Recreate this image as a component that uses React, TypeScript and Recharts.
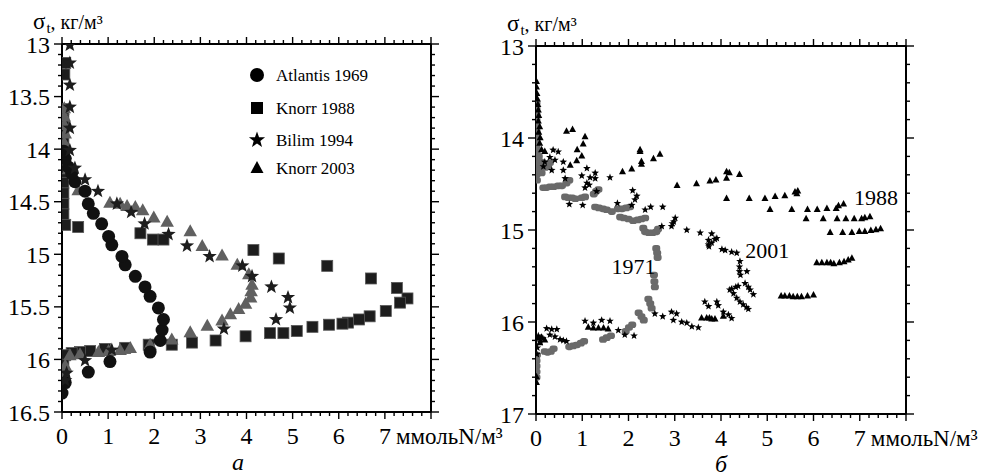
import React from 'react';
import { ScatterChart, Scatter, XAxis, YAxis, Legend, ReferenceDot } from 'recharts';

const FONT = '"Liberation Serif", "Times New Roman", serif';

// ---------- Panel а : [nitrate (mmol N/m3), sigma-t]
const atlantis1969: number[][] = [
  [0.0, 16.32], [0.07, 16.22], [0.57, 16.12], [1.04, 16.02], [1.91, 15.93], [2.13, 15.82], [2.17, 15.72],
  [2.2, 15.62], [2.09, 15.51], [1.91, 15.4], [1.8, 15.31], [1.59, 15.21], [1.37, 15.1], [1.3, 15.02],
  [1.08, 14.91], [1.01, 14.83], [0.86, 14.71], [0.68, 14.61], [0.57, 14.52], [0.5, 14.4], [0.28, 14.31],
  [0.21, 14.23], [0.14, 14.17], [0.07, 14.09], [0.04, 14.02],
];
const knorr1988: number[][] = [
  [0.07, 13.18], [0.05, 13.29], [0.03, 13.62], [0.03, 13.72], [0.03, 13.82], [0.03, 13.92], [0.03, 14.02],
  [0.03, 14.12], [0.03, 14.22], [0.03, 14.32], [0.03, 14.42], [0.03, 14.52], [0.03, 14.62], [0.07, 14.72],
  [0.35, 14.74], [1.7, 14.8], [1.97, 14.86], [2.2, 14.86], [4.15, 14.96], [4.7, 15.04], [5.75, 15.11],
  [6.7, 15.23], [7.26, 15.32], [7.49, 15.42], [7.33, 15.46], [7.02, 15.54], [6.67, 15.59], [6.44, 15.62],
  [6.2, 15.65], [6.08, 15.66], [5.79, 15.67], [5.43, 15.69], [5.09, 15.73], [4.8, 15.75], [4.51, 15.75],
  [3.98, 15.78], [3.33, 15.82], [2.82, 15.84], [2.38, 15.86], [1.88, 15.86], [1.37, 15.89], [0.93, 15.9],
  [0.61, 15.92], [0.39, 15.93], [0.21, 15.94], [0.07, 15.96], [0.03, 16.05], [0.03, 16.13], [0.03, 16.22],
];
const bilim1994: number[][] = [
  [0.17, 13.01], [0.17, 13.18], [0.17, 13.39], [0.17, 13.6], [0.17, 13.8], [0.17, 14.01], [0.28, 14.18],
  [0.5, 14.29], [0.78, 14.4], [1.19, 14.52], [1.5, 14.6], [1.79, 14.71], [2.31, 14.81], [2.71, 14.92],
  [3.2, 15.02], [3.91, 15.11], [4.12, 15.21], [4.54, 15.31], [4.9, 15.41], [4.94, 15.51], [4.64, 15.62],
  [3.51, 15.71], [1.08, 15.91], [0.5, 16.01], [0.1, 16.13], [0.07, 16.2],
];
const knorr2003: number[][] = [
  [0.05, 13.62], [0.05, 13.7], [0.05, 13.78], [0.07, 13.86], [0.05, 13.95], [0.07, 14.05], [0.1, 14.12],
  [0.14, 14.2], [0.35, 14.4], [1.04, 14.52], [1.26, 14.53], [1.41, 14.55], [1.59, 14.56], [1.75, 14.59],
  [1.99, 14.66], [2.28, 14.7], [2.78, 14.79], [3.04, 14.93], [3.47, 15.02], [3.8, 15.11], [4.05, 15.2],
  [4.12, 15.3], [4.1, 15.36], [4.09, 15.42], [3.98, 15.48], [3.83, 15.53], [3.65, 15.58], [3.47, 15.64],
  [3.15, 15.69], [2.78, 15.75], [2.38, 15.82], [1.91, 15.87], [1.48, 15.9], [1.26, 15.92], [1.01, 15.93],
  [0.79, 15.94], [0.39, 15.96], [0.17, 15.97], [0.07, 16.07], [0.03, 16.13], [0.03, 16.2],
];

// ---------- Panel б
const gray1971: number[][] = [
  [0.01, 13.62], [0.01, 13.68], [0.01, 13.74], [0.01, 13.8], [0.01, 13.86], [0.01, 13.92], [0.01, 13.98],
  [0.01, 14.04], [0.01, 14.1], [0.01, 14.16], [0.01, 14.22], [0.01, 14.28], [0.01, 14.34], [0.01, 14.4],
  [0.02, 14.46], [0.06, 14.2], [0.1, 14.26], [0.14, 14.3], [0.2, 14.32], [0.26, 14.3], [0.3, 14.27],
  [0.06, 14.36], [0.12, 14.38],
  [0.16, 14.54], [0.22, 14.54], [0.3, 14.53], [0.38, 14.53], [0.48, 14.52], [0.56, 14.52], [0.66, 14.49], [0.72, 14.46],
  [0.63, 14.64], [0.7, 14.65], [0.78, 14.65], [0.85, 14.66], [0.99, 14.65], [1.06, 14.64], [1.25, 14.61], [1.3, 14.58], [1.35, 14.56],
  [1.28, 14.75], [1.36, 14.76], [1.45, 14.77], [1.53, 14.78], [1.64, 14.8], [1.77, 14.77], [1.86, 14.77], [1.95, 14.76], [2.03, 14.75],
  [1.82, 14.86], [1.9, 14.87], [2.0, 14.88], [2.1, 14.9], [2.2, 14.89], [2.28, 14.88], [2.36, 14.87],
  [2.32, 14.98], [2.36, 15.02], [2.44, 15.03], [2.52, 15.03], [2.6, 15.02], [2.64, 14.99],
  [2.6, 15.2], [2.62, 15.25], [2.63, 15.3],
  [2.55, 15.49], [2.56, 15.56], [2.57, 15.62],
  [2.43, 15.75], [2.47, 15.8], [2.5, 15.85],
  [2.22, 15.9], [2.28, 15.94], [2.33, 15.98],
  [1.94, 16.1], [2.01, 16.06], [2.08, 16.03],
  [1.45, 16.19], [1.53, 16.17], [1.62, 16.15],
  [0.72, 16.27], [0.8, 16.26], [0.88, 16.25], [0.97, 16.23], [1.04, 16.21],
  [0.19, 16.32], [0.25, 16.33], [0.32, 16.32], [0.38, 16.29],
  [0.02, 16.36], [0.01, 16.42], [0.01, 16.48], [0.01, 16.54], [0.01, 16.6],
];
const stars2001: number[][] = [
  [0.37, 14.13], [0.48, 14.15], [0.3, 14.21], [0.41, 14.24], [0.19, 14.26], [0.16, 14.31], [0.34, 14.35],
  [0.59, 14.26], [0.59, 14.35], [0.63, 14.44], [1.1, 14.33], [1.28, 14.38], [0.99, 14.41], [1.17, 14.43],
  [1.28, 14.44], [1.1, 14.49], [1.06, 14.54], [1.15, 14.51], [1.31, 14.58], [1.6, 14.43], [0.72, 14.72],
  [1.01, 14.73], [1.76, 14.71], [2.09, 14.57], [2.18, 14.63], [2.14, 14.67], [2.07, 14.73], [2.36, 14.78],
  [2.48, 14.75], [2.74, 14.75], [2.72, 14.96], [2.93, 14.96], [3.01, 14.87], [2.98, 14.91], [2.95, 14.93],
  [3.26, 15.0], [3.55, 15.03], [3.8, 15.04], [3.73, 15.11], [3.8, 15.14], [3.91, 15.09], [3.73, 15.16],
  [3.87, 15.1], [3.74, 15.18], [4.02, 15.21], [4.09, 15.22], [4.23, 15.24], [4.34, 15.25], [4.41, 15.34],
  [4.4, 15.4], [4.4, 15.45], [4.42, 15.49], [4.56, 15.45], [4.52, 15.58], [4.59, 15.62], [4.63, 15.65],
  [4.7, 15.7], [4.23, 15.64], [4.32, 15.62], [4.37, 15.61], [4.27, 15.69], [4.34, 15.74], [4.41, 15.78],
  [4.48, 15.81], [4.55, 15.84], [4.59, 15.86], [3.65, 15.78], [3.73, 15.83], [3.91, 15.78], [3.94, 15.82],
  [4.05, 15.89], [4.16, 15.92], [4.23, 15.96], [4.19, 15.65],
  [2.57, 15.91], [2.74, 15.94], [2.93, 15.89], [3.04, 15.91], [2.97, 15.98], [3.15, 16.0], [3.26, 16.01],
  [3.37, 16.05], [3.51, 16.06],
  [1.06, 15.99], [1.24, 16.01], [1.42, 15.98], [1.6, 15.99], [1.78, 16.09], [1.92, 16.14], [2.12, 16.15],
  [0.23, 16.07], [0.34, 16.08], [0.45, 16.08], [0.3, 16.14], [0.41, 16.16], [0.52, 16.19], [0.59, 16.2],
  [0.66, 16.21], [0.05, 16.15], [0.1, 16.22], [0.03, 16.28], [0.15, 16.18], [0.02, 16.35],
];
const tri1988: number[][] = [
  [0.01, 13.39], [0.01, 13.45], [0.02, 13.52], [0.03, 13.58], [0.04, 13.64], [0.05, 13.7], [0.06, 13.76],
  [0.05, 13.82], [0.08, 13.88], [0.06, 13.94], [0.09, 14.0], [0.08, 14.06], [0.12, 14.13], [0.19, 14.15],
  [0.66, 13.93], [0.79, 13.91], [1.06, 13.99], [1.02, 14.07], [0.89, 14.13], [0.99, 14.2], [0.88, 14.25], [0.74, 14.3],
  [2.25, 14.13], [2.25, 14.15], [2.28, 14.26], [2.28, 14.29], [2.07, 14.34], [1.87, 14.37], [2.54, 14.23], [2.68, 14.18],
  [3.05, 14.52], [3.47, 14.5], [3.76, 14.47], [3.89, 14.46], [4.12, 14.37], [4.18, 14.38], [4.12, 14.44], [4.4, 14.4],
  [4.12, 14.66], [4.61, 14.66], [4.95, 14.66], [5.17, 14.64], [5.38, 14.63], [5.6, 14.59], [5.66, 14.58], [5.64, 14.61],
  [5.06, 14.78], [5.53, 14.78], [5.87, 14.78], [6.08, 14.78], [6.29, 14.77], [6.49, 14.77], [6.54, 14.74], [6.65, 14.72],
  [5.84, 14.88], [6.21, 14.88], [6.51, 14.88], [6.7, 14.88], [6.88, 14.88], [7.04, 14.88], [7.11, 14.87], [7.22, 14.86],
  [6.36, 15.03], [6.63, 15.03], [6.83, 15.03], [6.99, 15.02], [7.11, 15.02], [7.24, 15.01], [7.35, 15.0], [7.45, 14.99],
  [6.07, 15.36], [6.18, 15.36], [6.29, 15.36], [6.37, 15.36], [6.44, 15.37], [6.56, 15.36], [6.66, 15.35], [6.75, 15.33], [6.83, 15.31],
  [5.3, 15.72], [5.38, 15.72], [5.48, 15.72], [5.56, 15.73], [5.65, 15.73], [5.74, 15.73], [5.87, 15.72], [6.0, 15.71],
  [3.58, 15.96], [3.69, 15.96], [3.8, 15.97], [3.87, 15.97], [4.05, 15.94], [3.75, 15.96],
  [1.13, 16.06], [1.24, 16.07], [1.35, 16.07], [1.46, 16.07], [1.56, 16.08],
  [0.05, 16.18], [0.12, 16.17], [0.19, 16.2], [0.08, 16.23], [0.01, 16.6], [0.01, 16.66],
];

const legendNames = ['Atlantis 1969', 'Knorr 1988', 'Bilim 1994', 'Knorr 2003'];
const annotations = [
  { text: '1988', x: 7.35, y: 14.64 },
  { text: '2001', x: 5.0, y: 15.22 },
  { text: '1971', x: 2.11, y: 15.39 },
];
const panelCaptions = ['а', 'б'];
const xUnit = 'ммольN/м³';
const yTitleUnit = ', кг/м³';

const range = (a: number, b: number, s: number) => {
  const out: number[] = [];
  const n = Math.round((b - a) / s);
  for (let i = 0; i <= n; i++) out.push(Math.round((a + i * s) * 1000) / 1000);
  return out;
};
const xTicks = range(0, 8, 0.2);
const yTicksA = range(13, 16.5, 0.1);
const yTicksB = range(13, 17, 0.2);

const toPts = (arr: number[][]) => arr.map(([x, y]) => ({ x, y }));
const isMajor = (v: number, step: number) => Math.abs(v / step - Math.round(v / step)) < 1e-6;

// ---------- shapes
const starPath = (cx: number, cy: number, R: number, r: number) => {
  let d = '';
  for (let i = 0; i < 10; i++) {
    const a = -Math.PI / 2 + (i * Math.PI) / 5;
    const rad = i % 2 === 0 ? R : r;
    d += (i ? 'L' : 'M') + (cx + rad * Math.cos(a)).toFixed(2) + ',' + (cy + rad * Math.sin(a)).toFixed(2);
  }
  return d + 'Z';
};
const triPath = (cx: number, cy: number, w: number, h: number) =>
  `M${cx},${cy - (h * 2) / 3}L${cx + w / 2},${cy + h / 3}L${cx - w / 2},${cy + h / 3}Z`;

const CircleBig = (p: any) => <circle cx={p.cx} cy={p.cy} r={6.5} fill="#111" />;
const SquareBig = (p: any) => (
  <rect x={p.cx - 5.5} y={p.cy - 5.5} width={11} height={11} fill="#1d1d1d" stroke="#555" strokeWidth={0.8} />
);
const StarBig = (p: any) => <path d={starPath(p.cx, p.cy, 7.5, 3.1)} fill="#1d1d1d" />;
const TriBig = (p: any) => <path d={triPath(p.cx, p.cy, 13.5, 12)} fill="#606060" />;

const DashGray = (p: any) => <rect x={p.cx - 4} y={p.cy - 3.3} width={8} height={6.6} rx={2.8} fill="#6a6a6a" />;
const StarSmall = (p: any) => <path d={starPath(p.cx, p.cy, 4, 1.7)} fill="#000" />;
const TriSmall = (p: any) => <path d={triPath(p.cx, p.cy, 7, 6.5)} fill="#000" />;

// ---------- ticks
const bottomTick = (step: number) => (p: any) => {
  const v = p.payload.value;
  const m = isMajor(v, step);
  return (
    <g>
      <line x1={p.x} x2={p.x} y1={p.y} y2={p.y + (m ? 7 : 4)} stroke="#000" strokeWidth={1.4} />
      {m && v < 8 ? (
        <text x={p.x} y={p.y + 32} textAnchor="middle" fontFamily={FONT} fontSize={24} fill="#000">
          {v}
        </text>
      ) : null}
    </g>
  );
};
const topTick = (step: number) => (p: any) => {
  const v = p.payload.value;
  const m = isMajor(v, step);
  return <line x1={p.x} x2={p.x} y1={p.y} y2={p.y - (m ? 7 : 4)} stroke="#000" strokeWidth={1.4} />;
};
const leftTick = (step: number) => (p: any) => {
  const v = p.payload.value;
  const m = isMajor(v, step);
  return (
    <g>
      <line x1={p.x} x2={p.x - (m ? 8 : 4)} y1={p.y} y2={p.y} stroke="#000" strokeWidth={1.4} />
      {m ? (
        <text x={p.x - 12} y={p.y} dy="0.36em" textAnchor="end" fontFamily={FONT} fontSize={24} fill="#000">
          {v}
        </text>
      ) : null}
    </g>
  );
};
const rightTick = (step: number) => (p: any) => {
  const v = p.payload.value;
  const m = isMajor(v, step);
  return <line x1={p.x} x2={p.x + (m ? 8 : 4)} y1={p.y} y2={p.y} stroke="#000" strokeWidth={1.4} />;
};

// ---------- labels
const YTitle = (props: any) => {
  const vb = props.viewBox || {};
  const x0 = vb.x + (vb.width || 0);
  return (
    <text x={x0 - 29} y={vb.y - 15} fontFamily={FONT} fill="#000">
      <tspan fontSize={23}>σ</tspan>
      <tspan fontSize={15} dx={1} dy={4}>t</tspan>
      <tspan fontSize={20} dy={-4}>{yTitleUnit}</tspan>
    </text>
  );
};
const makeXLabel = (caption: string, capDx: number) => (props: any) => {
  const vb = props.viewBox || {};
  return (
    <g>
      <text x={vb.x + vb.width * 0.905} y={vb.y + 32} fontFamily={FONT} fontSize={23} fill="#000">
        {xUnit}
      </text>
      <text x={vb.x + capDx} y={vb.y + 58} textAnchor="middle" fontFamily={FONT} fontStyle="italic" fontSize={24} fill="#000">
        {caption}
      </text>
    </g>
  );
};

const legendMarkers = [
  (x: number, y: number) => <circle cx={x} cy={y} r={7} fill="#000" />,
  (x: number, y: number) => <rect x={x - 6} y={y - 6} width={12} height={12} fill="#000" />,
  (x: number, y: number) => <path d={starPath(x, y, 8.5, 3.5)} fill="#000" />,
  (x: number, y: number) => <path d={triPath(x, y + 1, 13, 12)} fill="#000" />,
];
const legendRowY = [13, 46, 78, 106];
const LegendBox = () => (
  <svg width={160} height={130} style={{ overflow: 'visible' }}>
    {legendNames.map((name, i) => (
      <g key={name}>
        {legendMarkers[i](14, legendRowY[i])}
        <text x={33} y={legendRowY[i] + 6} fontFamily={FONT} fontSize={17} fill="#000">
          {name}
        </text>
      </g>
    ))}
  </svg>
);

const axisLine = { stroke: '#000', strokeWidth: 2 };
const common = { tickSize: 0, tickMargin: 0, tickLine: false, axisLine, allowDataOverflow: true, interval: 0 as const };

export default function App() {
  return (
    <div style={{ position: 'absolute', left: 0, top: 0, width: 982, height: 476, background: '#fff' }}>
      <div style={{ position: 'absolute', left: 0, top: 0 }}>
        <ScatterChart width={982} height={476} margin={{ top: 43, left: 61, right: 550, bottom: 63 }}>
          <XAxis xAxisId="b" orientation="bottom" type="number" dataKey="x" domain={[0, 8]} ticks={xTicks} height={1}
            {...common} tick={bottomTick(1)} label={makeXLabel(panelCaptions[0], 176)} />
          <XAxis xAxisId="t" orientation="top" type="number" dataKey="x" domain={[0, 8]} ticks={xTicks} height={1}
            {...common} tick={topTick(1)} />
          <YAxis yAxisId="l" orientation="left" type="number" dataKey="y" domain={[13, 16.5]} reversed ticks={yTicksA}
            width={1} {...common} tick={leftTick(0.5)} label={<YTitle />} />
          <YAxis yAxisId="r" orientation="right" type="number" dataKey="y" domain={[13, 16.5]} reversed ticks={yTicksA}
            width={1} {...common} tick={rightTick(0.5)} />
          <Scatter name={legendNames[1]} xAxisId="b" yAxisId="l" data={toPts(knorr1988)} shape={SquareBig} isAnimationActive={false} />
          <Scatter name={legendNames[3]} xAxisId="b" yAxisId="l" data={toPts(knorr2003)} shape={TriBig} isAnimationActive={false} />
          <Scatter name={legendNames[0]} xAxisId="b" yAxisId="l" data={toPts(atlantis1969)} shape={CircleBig} isAnimationActive={false} />
          <Scatter name={legendNames[2]} xAxisId="b" yAxisId="l" data={toPts(bilim1994)} shape={StarBig} isAnimationActive={false} />
          <Legend layout="vertical" verticalAlign="top" align="left" content={<LegendBox />}
            wrapperStyle={{ position: 'absolute', left: 243, top: 62, width: 0, height: 0, overflow: 'visible' }} />
        </ScatterChart>
      </div>
      <div style={{ position: 'absolute', left: 0, top: 0 }}>
        <ScatterChart width={982} height={476} margin={{ top: 45, left: 535, right: 75, bottom: 61 }}>
          <XAxis xAxisId="b" orientation="bottom" type="number" dataKey="x" domain={[0, 8]} ticks={xTicks} height={1}
            {...common} tick={bottomTick(1)} label={makeXLabel(panelCaptions[1], 185)} />
          <XAxis xAxisId="t" orientation="top" type="number" dataKey="x" domain={[0, 8]} ticks={xTicks} height={1}
            {...common} tick={topTick(1)} />
          <YAxis yAxisId="l" orientation="left" type="number" dataKey="y" domain={[13, 17]} reversed ticks={yTicksB}
            width={1} {...common} tick={leftTick(1)} label={<YTitle />} />
          <YAxis yAxisId="r" orientation="right" type="number" dataKey="y" domain={[13, 17]} reversed ticks={yTicksB}
            width={1} {...common} tick={rightTick(1)} />
          <Scatter name="1971" xAxisId="b" yAxisId="l" data={toPts(gray1971)} shape={DashGray} isAnimationActive={false} />
          <Scatter name="1988" xAxisId="b" yAxisId="l" data={toPts(tri1988)} shape={TriSmall} isAnimationActive={false} />
          <Scatter name="2001" xAxisId="b" yAxisId="l" data={toPts(stars2001)} shape={StarSmall} isAnimationActive={false} />
          {annotations.map((a) => (
            <ReferenceDot key={a.text} xAxisId="b" yAxisId="l" x={a.x} y={a.y} r={0} fill="none" stroke="none"
              label={{ value: a.text, position: 'center', fontFamily: FONT, fontSize: 22, fill: '#000' }} />
          ))}
        </ScatterChart>
      </div>
    </div>
  );
}
